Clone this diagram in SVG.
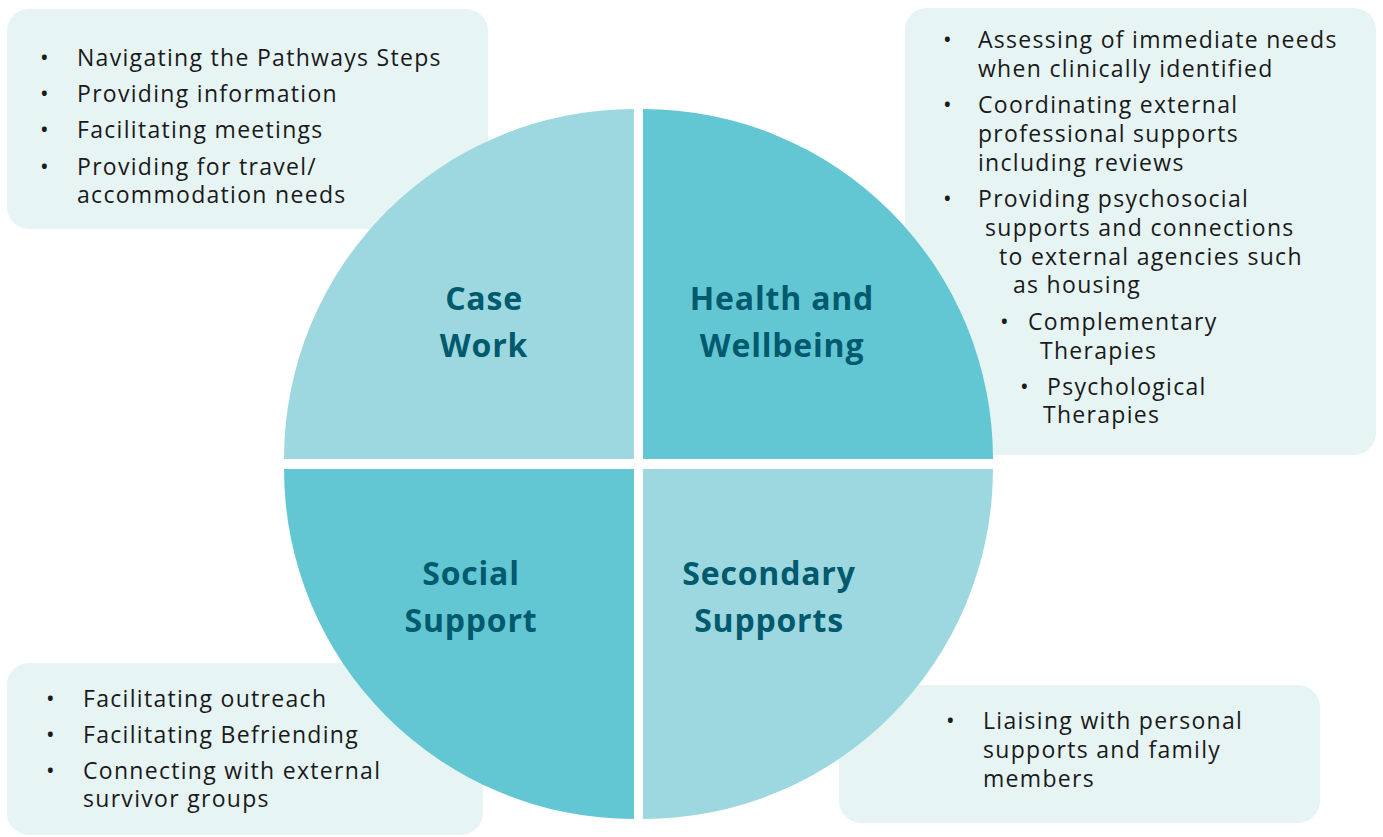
<svg xmlns="http://www.w3.org/2000/svg" width="1383" height="837" viewBox="0 0 1383 837">
<style>
.box{fill:#E6F4F4}
.qa{fill:#9DD7DF}
.qb{fill:#63C7D3}
.t{font-family:"Open Sans","Liberation Sans",sans-serif;font-size:23px;letter-spacing:1.3px;fill:#1a1a1a}
.h{font-family:"Open Sans","Liberation Sans",sans-serif;font-size:32px;font-weight:700;letter-spacing:0.8px;fill:#005A6E;text-anchor:middle}
</style>
<rect width="1383" height="837" fill="#ffffff"/>
<g id="box-casework">
<rect class="box" x="7" y="9" width="481" height="220" rx="22"/>
<text class="t" x="40" y="66">•</text><text class="t" x="77" y="66">Navigating the Pathways Steps</text>
<text class="t" x="40" y="102">•</text><text class="t" x="77" y="102">Providing information</text>
<text class="t" x="40" y="138">•</text><text class="t" x="77" y="138">Facilitating meetings</text>
<text class="t" x="40" y="175">•</text><text class="t" x="77" y="175">Providing for travel/</text>
<text class="t" x="77" y="203">accommodation needs</text>
</g>
<g id="box-health">
<rect class="box" x="905" y="8" width="471" height="447" rx="22"/>
<text class="t" x="943" y="48">•</text><text class="t" x="978" y="48">Assessing of immediate needs</text>
<text class="t" x="978" y="77">when clinically identified</text>
<text class="t" x="943" y="113">•</text><text class="t" x="978" y="113">Coordinating external</text>
<text class="t" x="978" y="142">professional supports</text>
<text class="t" x="978" y="171">including reviews</text>
<text class="t" x="943" y="207">•</text><text class="t" x="978" y="207">Providing psychosocial</text>
<text class="t" x="985" y="236">supports and connections</text>
<text class="t" x="999" y="265">to external agencies such</text>
<text class="t" x="1013" y="293">as housing</text>
<text class="t" x="1000" y="330">•</text><text class="t" x="1028" y="330">Complementary</text>
<text class="t" x="1040" y="359">Therapies</text>
<text class="t" x="1020" y="395">•</text><text class="t" x="1047" y="395">Psychological</text>
<text class="t" x="1043" y="423">Therapies</text>
</g>
<g id="box-social">
<rect class="box" x="7" y="663" width="476" height="172" rx="22"/>
<text class="t" x="46" y="707">•</text><text class="t" x="83" y="707">Facilitating outreach</text>
<text class="t" x="46" y="743">•</text><text class="t" x="83" y="743">Facilitating Befriending</text>
<text class="t" x="46" y="779">•</text><text class="t" x="83" y="779">Connecting with external</text>
<text class="t" x="83" y="807">survivor groups</text>
</g>
<g id="box-secondary">
<rect class="box" x="839" y="685" width="481" height="138" rx="22"/>
<text class="t" x="946" y="729">•</text><text class="t" x="983" y="729">Liaising with personal</text>
<text class="t" x="983" y="758">supports and family</text>
<text class="t" x="983" y="787">members</text>
</g>
<g id="q-casework">
<path class="qa" d="M634 459 L284 459 A350 350 0 0 1 634 109 Z"/>
<text class="h" x="484" y="310">Case</text><text class="h" x="484" y="357">Work</text>
</g>
<g id="q-health">
<path class="qb" d="M643 459 L643 109 A350 350 0 0 1 993 459 Z"/>
<text class="h" x="782" y="310">Health and</text><text class="h" x="782" y="357">Wellbeing</text>
</g>
<g id="q-social">
<path class="qb" d="M634 469 L634 819 A350 350 0 0 1 284 469 Z"/>
<text class="h" x="471" y="585">Social</text><text class="h" x="471" y="632">Support</text>
</g>
<g id="q-secondary">
<path class="qa" d="M643 469 L993 469 A350 350 0 0 1 643 819 Z"/>
<text class="h" x="769" y="585">Secondary</text><text class="h" x="769" y="632">Supports</text>
</g>
<g id="connectors"/>
</svg>
